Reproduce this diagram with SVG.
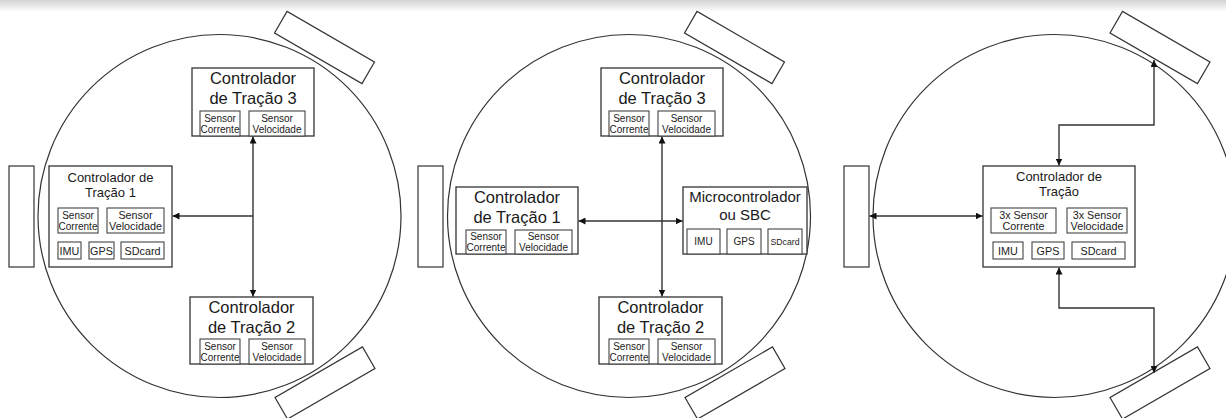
<svg xmlns="http://www.w3.org/2000/svg" width="1226" height="418" viewBox="0 0 1226 418">
<defs>
<linearGradient id="shade" x1="0" y1="0" x2="0" y2="1">
<stop offset="0" stop-color="#d4d4d4"/>
<stop offset="1" stop-color="#ffffff"/>
</linearGradient>
<marker id="ah" viewBox="0 0 10 10" refX="10" refY="5" markerWidth="7" markerHeight="7" markerUnits="userSpaceOnUse" orient="auto-start-reverse">
<path d="M0,0 L10,5 L0,10 Z" fill="#111"/>
</marker>
<style>
.body{fill:none;stroke:#333;stroke-width:1.2}
.wheel{fill:#fff;stroke:#333;stroke-width:1.2}
.box{fill:#fff;stroke:#333;stroke-width:1.3}
.sub{fill:#fff;stroke:#444;stroke-width:1.1}
.t16{font-family:"Liberation Sans",Arial,sans-serif;font-size:16.5px;fill:#1a1a1a;text-anchor:middle}
.t13{font-family:"Liberation Sans",Arial,sans-serif;font-size:13px;fill:#1a1a1a;text-anchor:middle}
.t10{font-family:"Liberation Sans",Arial,sans-serif;font-size:10px;fill:#222;text-anchor:middle}
.t11{font-family:"Liberation Sans",Arial,sans-serif;font-size:10.8px;fill:#222;text-anchor:middle}
.t8{font-family:"Liberation Sans",Arial,sans-serif;font-size:8.7px;fill:#222;text-anchor:middle}
.conn{fill:none;stroke:#333;stroke-width:1.4;marker-start:url(#ah);marker-end:url(#ah)}
.conn1{fill:none;stroke:#333;stroke-width:1.4;marker-end:url(#ah)}
</style>
</defs>
<rect x="0" y="0" width="1226" height="12" fill="url(#shade)"/>

<!-- Panel 1 -->
<g id="panel1-body">
<circle class="body" cx="219.5" cy="216" r="181.5"/>
<rect class="wheel" x="9" y="166" width="25" height="101"/>
<rect class="wheel" x="-50.5" y="-12.5" width="101" height="25" transform="translate(324.5,47.5) rotate(30)"/>
<rect class="wheel" x="-50.5" y="-12.5" width="101" height="25" transform="translate(325,383) rotate(-30)"/>
</g>
<g id="p1-ctrl3">
<rect class="box" x="192" y="68" width="122" height="68"/>
<text class="t16" x="253" y="84">Controlador</text>
<text class="t16" x="253" y="104">de Tração 3</text>
<rect class="sub" x="200" y="111" width="40" height="25"/>
<text class="t10" x="220" y="122">Sensor</text>
<text class="t10" x="220" y="133">Corrente</text>
<rect class="sub" x="249" y="111" width="56" height="25"/>
<text class="t10" x="277" y="122">Sensor</text>
<text class="t10" x="277" y="133">Velocidade</text>
</g>
<g id="p1-ctrl2">
<rect class="box" x="190" y="297" width="123" height="67"/>
<text class="t16" x="251.5" y="313">Controlador</text>
<text class="t16" x="251.5" y="333">de Tração 2</text>
<rect class="sub" x="200" y="339" width="40" height="25"/>
<text class="t10" x="220" y="350">Sensor</text>
<text class="t10" x="220" y="361">Corrente</text>
<rect class="sub" x="249" y="339" width="56" height="25"/>
<text class="t10" x="277" y="350">Sensor</text>
<text class="t10" x="277" y="361">Velocidade</text>
</g>
<g id="p1-ctrl1">
<rect class="box" x="49" y="166" width="123" height="101"/>
<text class="t13" x="110.5" y="182">Controlador de</text>
<text class="t13" x="110.5" y="197">Tração 1</text>
<rect class="sub" x="58" y="208" width="40" height="25"/>
<text class="t10" x="78" y="219">Sensor</text>
<text class="t10" x="78" y="230">Corrente</text>
<rect class="sub" x="107" y="208" width="57" height="25"/>
<text class="t11" x="135.5" y="219">Sensor</text>
<text class="t11" x="135.5" y="230">Velocidade</text>
<rect class="sub" x="58" y="242" width="23" height="17"/>
<text class="t11" x="69.5" y="254.5">IMU</text>
<rect class="sub" x="89" y="242" width="25" height="17"/>
<text class="t11" x="101.5" y="254.5">GPS</text>
<rect class="sub" x="121" y="242" width="43" height="17"/>
<text class="t11" x="142.5" y="254.5">SDcard</text>
</g>

<!-- Panel 2 -->
<g id="panel2-body">
<circle class="body" cx="629" cy="216" r="181.5"/>
<rect class="wheel" x="418" y="166" width="25" height="101"/>
<rect class="wheel" x="-50.5" y="-12.5" width="101" height="25" transform="translate(734.5,47.5) rotate(30)"/>
<rect class="wheel" x="-50.5" y="-12.5" width="101" height="25" transform="translate(735,383) rotate(-30)"/>
</g>
<g id="p2-ctrl3">
<rect class="box" x="601" y="68" width="122" height="68"/>
<text class="t16" x="662" y="84">Controlador</text>
<text class="t16" x="662" y="104">de Tração 3</text>
<rect class="sub" x="609" y="111" width="40" height="25"/>
<text class="t10" x="629" y="122">Sensor</text>
<text class="t10" x="629" y="133">Corrente</text>
<rect class="sub" x="658" y="111" width="57" height="25"/>
<text class="t10" x="686.5" y="122">Sensor</text>
<text class="t10" x="686.5" y="133">Velocidade</text>
</g>
<g id="p2-ctrl2">
<rect class="box" x="599" y="297" width="123" height="67"/>
<text class="t16" x="660.5" y="313">Controlador</text>
<text class="t16" x="660.5" y="333">de Tração 2</text>
<rect class="sub" x="609" y="339" width="40" height="25"/>
<text class="t10" x="629" y="350">Sensor</text>
<text class="t10" x="629" y="361">Corrente</text>
<rect class="sub" x="658" y="339" width="57" height="25"/>
<text class="t10" x="686.5" y="350">Sensor</text>
<text class="t10" x="686.5" y="361">Velocidade</text>
</g>
<g id="p2-ctrl1">
<rect class="box" x="456" y="187" width="122" height="67"/>
<text class="t16" x="517" y="203">Controlador</text>
<text class="t16" x="517" y="223">de Tração 1</text>
<rect class="sub" x="466" y="230" width="40" height="24"/>
<text class="t10" x="486" y="240">Sensor</text>
<text class="t10" x="486" y="251">Corrente</text>
<rect class="sub" x="515" y="230" width="57" height="24"/>
<text class="t10" x="543.5" y="240">Sensor</text>
<text class="t10" x="543.5" y="251">Velocidade</text>
</g>
<g id="p2-micro">
<rect class="box" x="683" y="187" width="124" height="67"/>
<text class="t16" x="745" y="202" style="font-size:15px">Microcontrolador</text>
<text class="t16" x="745" y="220" style="font-size:15px">ou SBC</text>
<rect class="sub" x="687" y="229" width="33" height="25"/>
<text class="t10" x="703.5" y="245">IMU</text>
<rect class="sub" x="727" y="229" width="34" height="25"/>
<text class="t10" x="744" y="245">GPS</text>
<rect class="sub" x="768" y="229" width="34" height="25"/>
<text class="t8" x="785" y="245">SDcard</text>
</g>

<!-- Panel 3 -->
<g id="panel3-body">
<circle class="body" cx="1054.5" cy="216" r="181.5"/>
<rect class="wheel" x="844" y="166" width="25" height="101"/>
<rect class="wheel" x="-50.5" y="-12.5" width="101" height="25" transform="translate(1160,47.5) rotate(30)"/>
<rect class="wheel" x="-50.5" y="-12.5" width="101" height="25" transform="translate(1160,383) rotate(-30)"/>
</g>
<g id="p3-ctrl">
<rect class="box" x="983" y="166" width="152" height="101"/>
<text class="t13" x="1059" y="181">Controlador de</text>
<text class="t13" x="1059" y="196">Tração</text>
<rect class="sub" x="991" y="208" width="65" height="25"/>
<text class="t11" x="1023.5" y="218.5">3x Sensor</text>
<text class="t11" x="1023.5" y="230">Corrente</text>
<rect class="sub" x="1067" y="208" width="60" height="25"/>
<text class="t11" x="1097" y="218.5">3x Sensor</text>
<text class="t11" x="1097" y="230">Velocidade</text>
<rect class="sub" x="993" y="242" width="30" height="17"/>
<text class="t11" x="1008" y="254.5">IMU</text>
<rect class="sub" x="1032" y="242" width="32" height="17"/>
<text class="t11" x="1048" y="254.5">GPS</text>
<rect class="sub" x="1072" y="242" width="53" height="17"/>
<text class="t11" x="1098.5" y="254.5">SDcard</text>
</g>

<g id="connectors">
<path class="conn" d="M253,136.5 V296.5"/>
<path class="conn1" d="M253,216 H172.5"/>
<path class="conn" d="M662,136.5 V296.5"/>
<path class="conn" d="M578.5,221 H682.5"/>
<path class="conn" d="M1059,165.5 V125 H1154 V60"/>
<path class="conn" d="M1059,267.5 V308 H1154 V373"/>
<path class="conn" d="M869.5,216 H982.5"/>
</g>
</svg>
